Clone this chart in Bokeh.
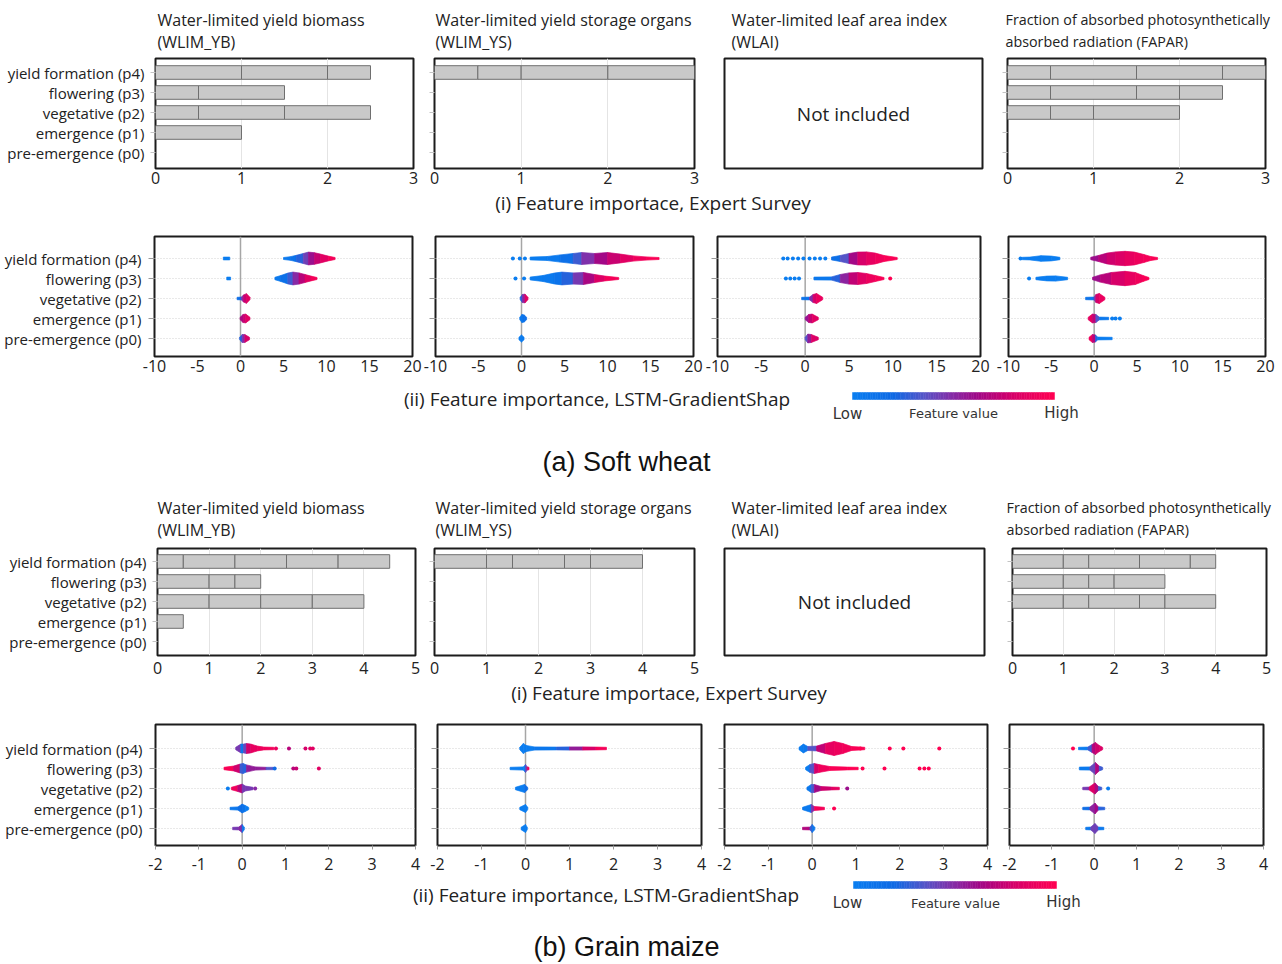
import numpy as np
from bokeh.plotting import figure
from bokeh.layouts import column, row
from bokeh.models import Range1d, FixedTicker, Span
from bokeh.core.properties import value
from bokeh.embed import file_html
from bokeh.resources import INLINE

# ---------------- data ----------------
STAGE_POS = [0, 1, 2, 3, 4]
STAGE_LABELS = ["pre-emergence (p0)", "emergence (p1)", "vegetative (p2)",
                "flowering (p3)", "yield formation (p4)"]

PANEL_TITLES = [("Water-limited yield biomass", "(WLIM_YB)"),
                ("Water-limited yield storage organs", "(WLIM_YS)"),
                ("Water-limited leaf area index", "(WLAI)"),
                ("Fraction of absorbed photosynthetically", "absorbed radiation (FAPAR)")]

WHEAT_SURVEY_TICKS = [0, 1, 2, 3]
MAIZE_SURVEY_TICKS = [0, 1, 2, 3, 4, 5]
WHEAT_SHAP_TICKS = [-10, -5, 0, 5, 10, 15, 20]
MAIZE_SHAP_TICKS = [-2, -1, 0, 1, 2, 3, 4]

# expert survey: stacked segment widths per stage (p0 .. p4); None = not included
WHEAT_YB_SURVEY = [[], [1.0], [0.5, 1.0, 1.0], [0.5, 1.0], [1.0, 1.0, 0.5]]
WHEAT_YS_SURVEY = [[], [], [], [], [0.5, 0.5, 1.0, 1.0]]
WHEAT_LAI_SURVEY = None
WHEAT_FAPAR_SURVEY = [[], [], [0.5, 0.5, 1.0], [0.5, 1.0, 0.5, 0.5], [0.5, 1.0, 1.0, 0.5]]

MAIZE_YB_SURVEY = [[], [0.5], [1.0, 1.0, 1.0, 1.0], [1.0, 0.5, 0.5], [0.5, 1.0, 1.0, 1.0, 1.0]]
MAIZE_YS_SURVEY = [[], [], [], [], [1.0, 0.5, 1.0, 0.5, 1.0]]
MAIZE_LAI_SURVEY = None
MAIZE_FAPAR_SURVEY = [[], [], [1.0, 0.5, 1.0, 0.5, 1.0], [1.0, 0.5, 0.5, 1.0], [1.0, 0.5, 1.0, 1.0, 0.5]]

# GradientShap swarms: (stage, [(shap value, half thickness, feature value 0..1), ...])
WHEAT_YB_SHAP = [
    (4, [(-2.0, 0.07, 0.0), (-1.25, 0.07, 0.0)]),
    (4, [(5.0, 0.05, 0.0), (5.8, 0.09, 0.05), (6.5, 0.16, 0.15), (7.3, 0.25, 0.35), (7.9, 0.32, 0.5),
         (8.6, 0.29, 0.68), (9.3, 0.22, 0.8), (10.2, 0.12, 0.9), (11.0, 0.05, 1.0)]),
    (3, [(-1.6, 0.07, 0.0), (-1.15, 0.07, 0.0)]),
    (3, [(4.0, 0.06, 0.0), (4.7, 0.15, 0.05), (5.5, 0.27, 0.2), (6.1, 0.32, 0.4), (6.8, 0.28, 0.6),
         (7.5, 0.2, 0.8), (8.2, 0.12, 0.9), (8.9, 0.05, 1.0)]),
    (2, [(-0.4, 0.06, 0.0), (0.1, 0.07, 0.3), (0.35, 0.18, 0.7), (0.7, 0.24, 0.8), (1.1, 0.06, 0.9)]),
    (1, [(-0.05, 0.06, 0.6), (0.3, 0.2, 0.7), (0.6, 0.22, 0.8), (1.1, 0.06, 0.9)]),
    (0, [(-0.1, 0.06, 0.2), (0.2, 0.2, 0.3), (0.5, 0.2, 0.7), (1.05, 0.06, 0.9)]),
]
WHEAT_YB_DOTS = []

WHEAT_YS_SHAP = [
    (4, [(1.0, 0.07, 0.0), (3.0, 0.1, 0.02), (4.5, 0.18, 0.05), (6.0, 0.25, 0.2), (7.0, 0.3, 0.4),
         (8.5, 0.25, 0.55), (10.0, 0.3, 0.7), (11.5, 0.22, 0.8), (13.0, 0.13, 0.9), (14.5, 0.08, 0.95),
         (16.0, 0.05, 1.0)]),
    (3, [(1.0, 0.07, 0.0), (2.5, 0.15, 0.02), (3.8, 0.27, 0.05), (4.7, 0.32, 0.15), (6.0, 0.28, 0.35),
         (7.2, 0.3, 0.55), (8.5, 0.2, 0.75), (9.7, 0.12, 0.9), (11.3, 0.05, 1.0)]),
    (2, [(-0.15, 0.06, 0.2), (0.1, 0.2, 0.3), (0.4, 0.22, 0.75), (0.75, 0.06, 0.95)]),
    (1, [(-0.2, 0.06, 0.0), (0.05, 0.2, 0.05), (0.3, 0.18, 0.1), (0.6, 0.06, 0.15)]),
    (0, [(-0.3, 0.06, 0.0), (0.0, 0.18, 0.0), (0.3, 0.06, 0.05)]),
]
WHEAT_YS_DOTS = [(4, -1.0, 0.0), (4, -0.2, 0.0), (4, 0.4, 0.0), (3, -0.7, 0.0), (3, 0.3, 0.0)]

WHEAT_LAI_SHAP = [
    (4, [(3.0, 0.07, 0.05), (4.0, 0.15, 0.2), (5.0, 0.25, 0.5), (6.0, 0.32, 0.75), (7.0, 0.33, 0.85),
         (8.0, 0.27, 0.9), (9.0, 0.15, 0.95), (10.5, 0.05, 1.0)]),
    (3, [(1.0, 0.07, 0.0), (3.0, 0.08, 0.1), (4.0, 0.2, 0.4), (5.0, 0.28, 0.65), (6.0, 0.3, 0.8),
         (7.0, 0.25, 0.88), (8.0, 0.15, 0.93), (9.0, 0.05, 1.0)]),
    (2, [(-0.4, 0.06, 0.0), (0.5, 0.07, 0.2), (0.9, 0.2, 0.75), (1.3, 0.25, 0.85), (2.0, 0.06, 0.95)]),
    (1, [(0.0, 0.06, 0.5), (0.4, 0.2, 0.65), (0.8, 0.22, 0.8), (1.5, 0.06, 0.9)]),
    (0, [(0.0, 0.06, 0.3), (0.3, 0.22, 0.4), (0.7, 0.2, 0.7), (1.5, 0.06, 0.95)]),
]
WHEAT_LAI_DOTS = [(4, -2.5, 0.0), (4, -2.0, 0.0), (4, -1.4, 0.0), (4, -0.8, 0.0), (4, -0.2, 0.0),
                  (4, 0.5, 0.0), (4, 1.1, 0.0), (4, 1.7, 0.0), (4, 2.3, 0.0),
                  (3, -2.2, 0.0), (3, -1.7, 0.0), (3, -1.2, 0.0), (3, -0.7, 0.0), (3, 9.7, 1.0)]

WHEAT_FAPAR_SHAP = [
    (4, [(-8.4, 0.06, 0.0), (-7.5, 0.07, 0.0), (-6.2, 0.14, 0.0), (-5.0, 0.12, 0.0), (-4.0, 0.06, 0.0)]),
    (4, [(-0.4, 0.06, 0.55), (0.5, 0.15, 0.65), (1.5, 0.27, 0.75), (2.5, 0.33, 0.8), (3.6, 0.36, 0.85),
         (4.7, 0.32, 0.9), (5.8, 0.2, 0.93), (6.6, 0.1, 0.96), (7.4, 0.05, 1.0)]),
    (3, [(-6.8, 0.06, 0.0), (-5.5, 0.12, 0.0), (-4.5, 0.13, 0.0), (-3.1, 0.06, 0.0)]),
    (3, [(-0.2, 0.06, 0.55), (0.7, 0.18, 0.65), (2.0, 0.3, 0.75), (3.6, 0.36, 0.85), (4.8, 0.3, 0.9),
         (5.7, 0.15, 0.95), (6.4, 0.05, 1.0)]),
    (2, [(-1.0, 0.06, 0.0), (0.0, 0.07, 0.2), (0.2, 0.2, 0.75), (0.6, 0.25, 0.85), (1.25, 0.06, 0.95)]),
    (1, [(-0.7, 0.06, 0.9), (-0.2, 0.22, 0.85), (0.2, 0.2, 0.6), (0.6, 0.07, 0.1), (1.7, 0.06, 0.0)]),
    (0, [(-0.6, 0.06, 0.95), (-0.2, 0.2, 0.9), (0.15, 0.18, 0.5), (0.4, 0.07, 0.0), (2.1, 0.06, 0.0)]),
]
WHEAT_FAPAR_DOTS = [(4, -8.6, 0.0), (3, -7.6, 0.0), (1, 2.1, 0.0), (1, 2.5, 0.0), (1, 3.0, 0.0)]

MAIZE_YB_SHAP = [
    (4, [(-0.15, 0.06, 0.9), (-0.03, 0.22, 0.0), (0.03, 0.22, 0.1), (0.1, 0.25, 0.7), (0.2, 0.22, 0.85),
         (0.35, 0.12, 0.9), (0.5, 0.07, 0.92), (0.73, 0.06, 0.95)]),
    (3, [(-0.42, 0.06, 1.0), (-0.2, 0.12, 0.95), (-0.05, 0.22, 0.6), (0.02, 0.25, 0.0), (0.1, 0.18, 0.5),
         (0.3, 0.08, 0.6), (0.55, 0.06, 0.5), (0.72, 0.06, 0.2)]),
    (2, [(-0.25, 0.06, 0.95), (-0.1, 0.15, 0.9), (0.0, 0.22, 0.5), (0.08, 0.12, 0.4), (0.25, 0.06, 0.5)]),
    (1, [(-0.28, 0.06, 0.0), (-0.1, 0.08, 0.1), (0.0, 0.22, 0.2), (0.07, 0.15, 0.0), (0.15, 0.06, 0.0)]),
    (0, [(-0.22, 0.06, 0.0), (-0.08, 0.07, 0.9), (0.0, 0.2, 0.1), (0.05, 0.06, 0.0)]),
]
MAIZE_YB_DOTS = [(4, 0.78, 0.9), (4, 1.08, 0.7), (4, 1.46, 0.8), (4, 1.57, 0.85), (4, 1.63, 0.85),
                 (3, 0.75, 0.2), (3, 1.18, 0.7), (3, 1.25, 0.75), (3, 1.77, 0.85),
                 (2, -0.33, 0.0), (2, 0.3, 0.5)]

MAIZE_YS_SHAP = [
    (4, [(-0.13, 0.06, 0.0), (-0.05, 0.25, 0.0), (0.02, 0.15, 0.0), (0.2, 0.08, 0.02), (0.7, 0.07, 0.1),
         (1.0, 0.08, 0.4), (1.3, 0.08, 0.7), (1.6, 0.07, 0.9), (1.84, 0.06, 1.0)]),
    (3, [(-0.35, 0.06, 0.0), (-0.05, 0.08, 0.0), (0.0, 0.2, 0.0), (0.04, 0.08, 0.8), (0.08, 0.06, 1.0)]),
    (2, [(-0.23, 0.06, 0.0), (-0.02, 0.2, 0.0), (0.05, 0.06, 0.3)]),
    (1, [(-0.13, 0.06, 0.0), (0.0, 0.2, 0.0), (0.05, 0.06, 0.0)]),
    (0, [(-0.1, 0.06, 0.0), (0.0, 0.2, 0.0), (0.04, 0.06, 0.0)]),
]
MAIZE_YS_DOTS = []

MAIZE_LAI_SHAP = [
    (4, [(-0.3, 0.06, 0.0), (-0.2, 0.22, 0.0), (-0.1, 0.1, 0.1), (0.1, 0.12, 0.6), (0.3, 0.25, 0.85),
         (0.5, 0.35, 0.9), (0.7, 0.25, 0.92), (0.9, 0.1, 0.95), (1.2, 0.06, 1.0)]),
    (3, [(-0.15, 0.06, 0.0), (-0.05, 0.2, 0.0), (0.05, 0.25, 0.7), (0.15, 0.2, 0.9), (0.4, 0.1, 0.95),
         (0.8, 0.07, 1.0), (1.05, 0.06, 1.0)]),
    (2, [(-0.12, 0.06, 0.0), (-0.02, 0.2, 0.1), (0.05, 0.2, 0.55), (0.2, 0.1, 0.7), (0.45, 0.07, 0.85),
         (0.62, 0.06, 0.9)]),
    (1, [(-0.22, 0.06, 0.0), (-0.02, 0.2, 0.05), (0.05, 0.1, 0.9), (0.28, 0.06, 1.0)]),
    (0, [(-0.22, 0.06, 0.85), (-0.05, 0.07, 0.5), (0.0, 0.2, 0.1), (0.06, 0.06, 0.0)]),
]
MAIZE_LAI_DOTS = [(4, 1.1, 1.0), (4, 1.77, 1.0), (4, 2.08, 1.0), (4, 2.9, 1.0),
                  (3, 1.15, 1.0), (3, 1.65, 1.0), (3, 2.45, 1.0), (3, 2.56, 1.0), (3, 2.66, 1.0),
                  (2, 0.8, 0.6), (1, 0.5, 1.0)]

MAIZE_FAPAR_SHAP = [
    (4, [(-0.37, 0.06, 0.0), (-0.15, 0.07, 0.0), (-0.05, 0.2, 0.6), (0.03, 0.3, 0.75), (0.12, 0.15, 0.8),
         (0.2, 0.06, 0.85)]),
    (3, [(-0.35, 0.07, 0.0), (-0.1, 0.08, 0.05), (0.03, 0.3, 0.75), (0.12, 0.12, 0.6), (0.2, 0.06, 0.0)]),
    (2, [(-0.27, 0.06, 0.0), (-0.12, 0.07, 0.9), (0.02, 0.28, 0.75), (0.1, 0.1, 0.6), (0.18, 0.06, 0.0)]),
    (1, [(-0.27, 0.06, 0.0), (-0.1, 0.07, 0.3), (0.02, 0.27, 0.75), (0.1, 0.08, 0.5), (0.25, 0.06, 0.0)]),
    (0, [(-0.2, 0.06, 0.0), (-0.08, 0.07, 0.1), (0.02, 0.25, 0.75), (0.1, 0.07, 0.1), (0.23, 0.06, 0.0)]),
]
MAIZE_FAPAR_DOTS = [(4, -0.5, 1.0), (2, 0.33, 0.0)]

# ---------------- style ----------------
FONT = "Open Sans"
TXT = "#222222"
PAGE_W = 1282
CMAP_STOPS = [(0.0, (10, 125, 240)), (0.2, (15, 105, 228)), (0.35, (85, 85, 200)),
              (0.5, (135, 42, 165)), (0.62, (160, 8, 135)), (0.8, (215, 0, 105)), (1.0, (255, 0, 82))]


def cmap(c):
    c = min(max(c, 0.0), 1.0)
    for (c0, a), (c1, b) in zip(CMAP_STOPS[:-1], CMAP_STOPS[1:]):
        if c <= c1:
            t = (c - c0) / (c1 - c0)
            return "#%02x%02x%02x" % tuple(int(round(u + (v - u) * t)) for u, v in zip(a, b))
    return "#%02x%02x%02x" % CMAP_STOPS[-1][1]


def panel_fig(w, h, ml, mr, mt, mb, xr, yr, axes=True):
    kw = dict(width=w, height=h, x_range=Range1d(*xr), y_range=Range1d(*yr),
              output_backend="svg", toolbar_location=None,
              min_border_left=ml, min_border_right=mr, min_border_top=mt, min_border_bottom=mb)
    if not axes:
        kw.update(x_axis_type=None, y_axis_type=None)
    p = figure(**kw)
    p.outline_line_color = "#1c1c1c"
    p.outline_line_width = 2
    return p


def style_axes(p, xticks, first, ytick_color, ytick_len, ystand, xstand, xtick_out):
    p.xaxis.ticker = FixedTicker(ticks=xticks)
    p.xaxis.major_label_overrides = {t: str(t) for t in xticks}
    p.xaxis.axis_line_color = None
    p.xaxis.major_tick_in = 0
    p.xaxis.major_tick_out = xtick_out
    p.xaxis.major_tick_line_color = "#9a9a9a" if xtick_out else None
    p.xaxis.minor_tick_line_color = None
    p.xaxis.major_label_text_font = FONT
    p.xaxis.major_label_text_font_size = "16px"
    p.xaxis.major_label_text_color = TXT
    p.xaxis.major_label_standoff = xstand
    p.yaxis.ticker = FixedTicker(ticks=STAGE_POS)
    p.yaxis.axis_line_color = None
    p.yaxis.major_tick_in = 0
    p.yaxis.major_tick_out = ytick_len
    p.yaxis.major_tick_line_color = ytick_color
    p.yaxis.minor_tick_line_color = None
    p.yaxis.major_label_text_font = FONT
    p.yaxis.major_label_text_color = TXT
    p.yaxis.major_label_text_font_size = "15px"
    if first:
        p.yaxis.major_label_overrides = {i: lab for i, lab in zip(STAGE_POS, STAGE_LABELS)}
        p.yaxis.major_label_standoff = ystand
    else:
        p.yaxis.major_label_overrides = {i: "" for i in STAGE_POS}
        p.yaxis.major_label_standoff = 0


def geom(b, frames, i):
    x0, x1 = frames[i]
    return b[i + 1] - b[i], x0 - b[i], b[i + 1] - x1


def survey_row(surveys, b, frames, h, mt, mb, box_mt, box_mb, xr, yr, xticks, xstand):
    figs = []
    for i, segs in enumerate(surveys):
        w, ml, mr = geom(b, frames, i)
        if segs is None:
            p = panel_fig(w, h, ml, mr, box_mt, box_mb, (0, 1), (0, 1), axes=False)
            p.text(x=[0.5], y=[0.5], text=["Not included"], text_font=value(FONT),
                   text_font_size="19px", text_color=TXT, text_align="center", text_baseline="middle")
            figs.append(p)
            continue
        p = panel_fig(w, h, ml, mr, mt, mb, xr, yr)
        style_axes(p, xticks, i == 0, "#c4c4c4", 5, 6, xstand, 0)
        p.xgrid.ticker = FixedTicker(ticks=xticks)
        p.xgrid.grid_line_color = "#e4e4e4"
        p.ygrid.grid_line_color = None
        ys, lefts, rights = [], [], []
        for stage, widths in zip(STAGE_POS, segs):
            start = 0.0
            for wd in widths:
                ys.append(stage)
                lefts.append(start)
                rights.append(start + wd)
                start += wd
        p.hbar(y=ys, left=lefts, right=rights, height=0.68, fill_color="#c9c9c9",
               line_color="#6f6f6f", line_width=1)
        figs.append(p)
    return row(*figs)


def shap_row(swarms, dots, b, frames, h, mt, mb, xr, yr, xticks, xstand, xtick_out):
    figs = []
    for i, (pieces, pts) in enumerate(zip(swarms, dots)):
        w, ml, mr = geom(b, frames, i)
        p = panel_fig(w, h, ml, mr, mt, mb, xr, yr)
        style_axes(p, xticks, i == 0, "#9a9a9a", 6, 7, xstand, xtick_out)
        p.xgrid.grid_line_color = None
        p.ygrid.ticker = FixedTicker(ticks=STAGE_POS)
        p.ygrid.grid_line_color = "#d2d2d2"
        p.ygrid.grid_line_dash = "1 2"
        zero = Span(location=0, dimension="height", line_color="#a6a6a6", line_width=1.5, level="underlay")
        p.add_layout(zero)
        xs, yss, cols = [], [], []
        for stage, prof in pieces:
            for (xa, ha, ca), (xb, hb, cb) in zip(prof[:-1], prof[1:]):
                xs.append([xa, xb, xb, xa])
                yss.append([stage - ha, stage - hb, stage + hb, stage + ha])
                cols.append(cmap((ca + cb) / 2))
        p.patches(xs, yss, fill_color=cols, line_color=cols, line_width=0.7)
        if pts:
            p.scatter([d[1] for d in pts], [d[0] for d in pts], size=4,
                      fill_color=[cmap(d[2]) for d in pts], line_color=None)
        figs.append(p)
    return row(*figs)


def strip(y0, h):
    s = figure(width=PAGE_W, height=h, x_range=Range1d(0, PAGE_W), y_range=Range1d(y0 + h, y0),
               output_backend="svg", toolbar_location=None, min_border=0,
               x_axis_type=None, y_axis_type=None)
    s.outline_line_color = None
    return s


def put(s, x, y, t, size, align="left", font=FONT, color=TXT):
    s.text(x=[x], y=[y], text=[t], text_font=value(font), text_font_size=size,
           text_color=color, text_align=align, text_baseline="middle")


def title_strip(y0, h, ly1, ly2, xs):
    s = strip(y0, h)
    for k, (t1, t2) in enumerate(PANEL_TITLES):
        size = "14.3px" if k == 3 else "16px"
        put(s, xs[k], ly1, t1, size)
        put(s, xs[k], ly2, t2, size)
    return s


def legend_strip(y0, h, cap_x, cap_y, bar, lows):
    s = strip(y0, h)
    put(s, cap_x, cap_y, "(ii)  Feature importance, LSTM-GradientShap", "19px", "center")
    x0, x1, yt, yb = bar
    n = 80
    edges = np.linspace(x0, x1, n + 1)
    cols = [cmap(k / (n - 1)) for k in range(n)]
    s.quad(left=edges[:-1], right=edges[1:], top=yt, bottom=yb, fill_color=cols, line_color=cols, line_width=0.5)
    (lx, ly), (fx, fy), (hx, hy) = lows
    put(s, lx, ly, "Low", "15px", "center", "DejaVu Sans", "#333333")
    put(s, fx, fy, "Feature value", "13px", "center", "DejaVu Sans", "#333333")
    put(s, hx, hy, "High", "15px", "center", "DejaVu Sans", "#333333")
    return s


# ---------------- layout (page pixel coordinates) ----------------
s1 = title_strip(0, 56, 19, 41, [157, 435, 731, 1005])
r1 = survey_row([WHEAT_YB_SURVEY, WHEAT_YS_SURVEY, WHEAT_LAI_SURVEY, WHEAT_FAPAR_SURVEY],
                [0, 423, 709, 994, PAGE_W], [(155, 413), (434, 694), (724, 982), (1007, 1265)],
                133, 2, 21, 1, 21, (0, 3), (-0.8, 4.7), WHEAT_SURVEY_TICKS, 3)
s2 = strip(189, 27)
put(s2, 655, 202, "(i)  Feature importace, Expert Survey", "19px", "center")
r2 = shap_row([WHEAT_YB_SHAP, WHEAT_YS_SHAP, WHEAT_LAI_SHAP, WHEAT_FAPAR_SHAP],
              [WHEAT_YB_DOTS, WHEAT_YS_DOTS, WHEAT_LAI_DOTS, WHEAT_FAPAR_DOTS],
              [0, 423, 705, 994, PAGE_W], [(154, 412), (435, 693), (717, 980), (1008, 1265)],
              164, 20, 24, (-10, 20), (-0.9, 5.1), WHEAT_SHAP_TICKS, 3, 0)
s3 = legend_strip(380, 50, 599, 398, (852, 1054, 392, 399), [(847, 413), (953, 413), (1061, 412)])
s4 = strip(430, 60)
put(s4, 626, 461, "(a) Soft wheat", "27px", "center", "Liberation Sans", "#111111")
s5 = title_strip(490, 56, 507, 529, [157, 435, 731, 1006])
r3 = survey_row([MAIZE_YB_SURVEY, MAIZE_YS_SURVEY, MAIZE_LAI_SURVEY, MAIZE_FAPAR_SURVEY],
                [0, 424, 709, 998, PAGE_W], [(157, 415), (434, 694), (724, 984), (1012, 1266)],
                133, 2, 24, 0, 22, (0, 5), (-0.7, 4.65), MAIZE_SURVEY_TICKS, 6)
s6 = strip(679, 27)
put(s6, 671, 692, "(i)  Feature importace, Expert Survey", "19px", "center")
r4 = shap_row([MAIZE_YB_SHAP, MAIZE_YS_SHAP, MAIZE_LAI_SHAP, MAIZE_FAPAR_SHAP],
              [MAIZE_YB_DOTS, MAIZE_YS_DOTS, MAIZE_LAI_DOTS, MAIZE_FAPAR_DOTS],
              [0, 426, 712, 998, PAGE_W], [(155, 415), (437, 701), (724, 987), (1009, 1263)],
              174, 18, 35, (-2, 4), (-0.85, 5.2), MAIZE_SHAP_TICKS, 8, 4)
s7 = legend_strip(880, 35, 608, 894, (853, 1056, 881, 888), [(847, 902), (955, 903), (1063, 901)])
s8 = strip(915, 48)
put(s8, 626, 946, "(b) Grain maize", "27px", "center", "Liberation Sans", "#111111")

layout = column(s1, r1, s2, r2, s3, s4, s5, r3, s6, r4, s7, s8)
open("out.html", "w").write(file_html(layout, INLINE))
